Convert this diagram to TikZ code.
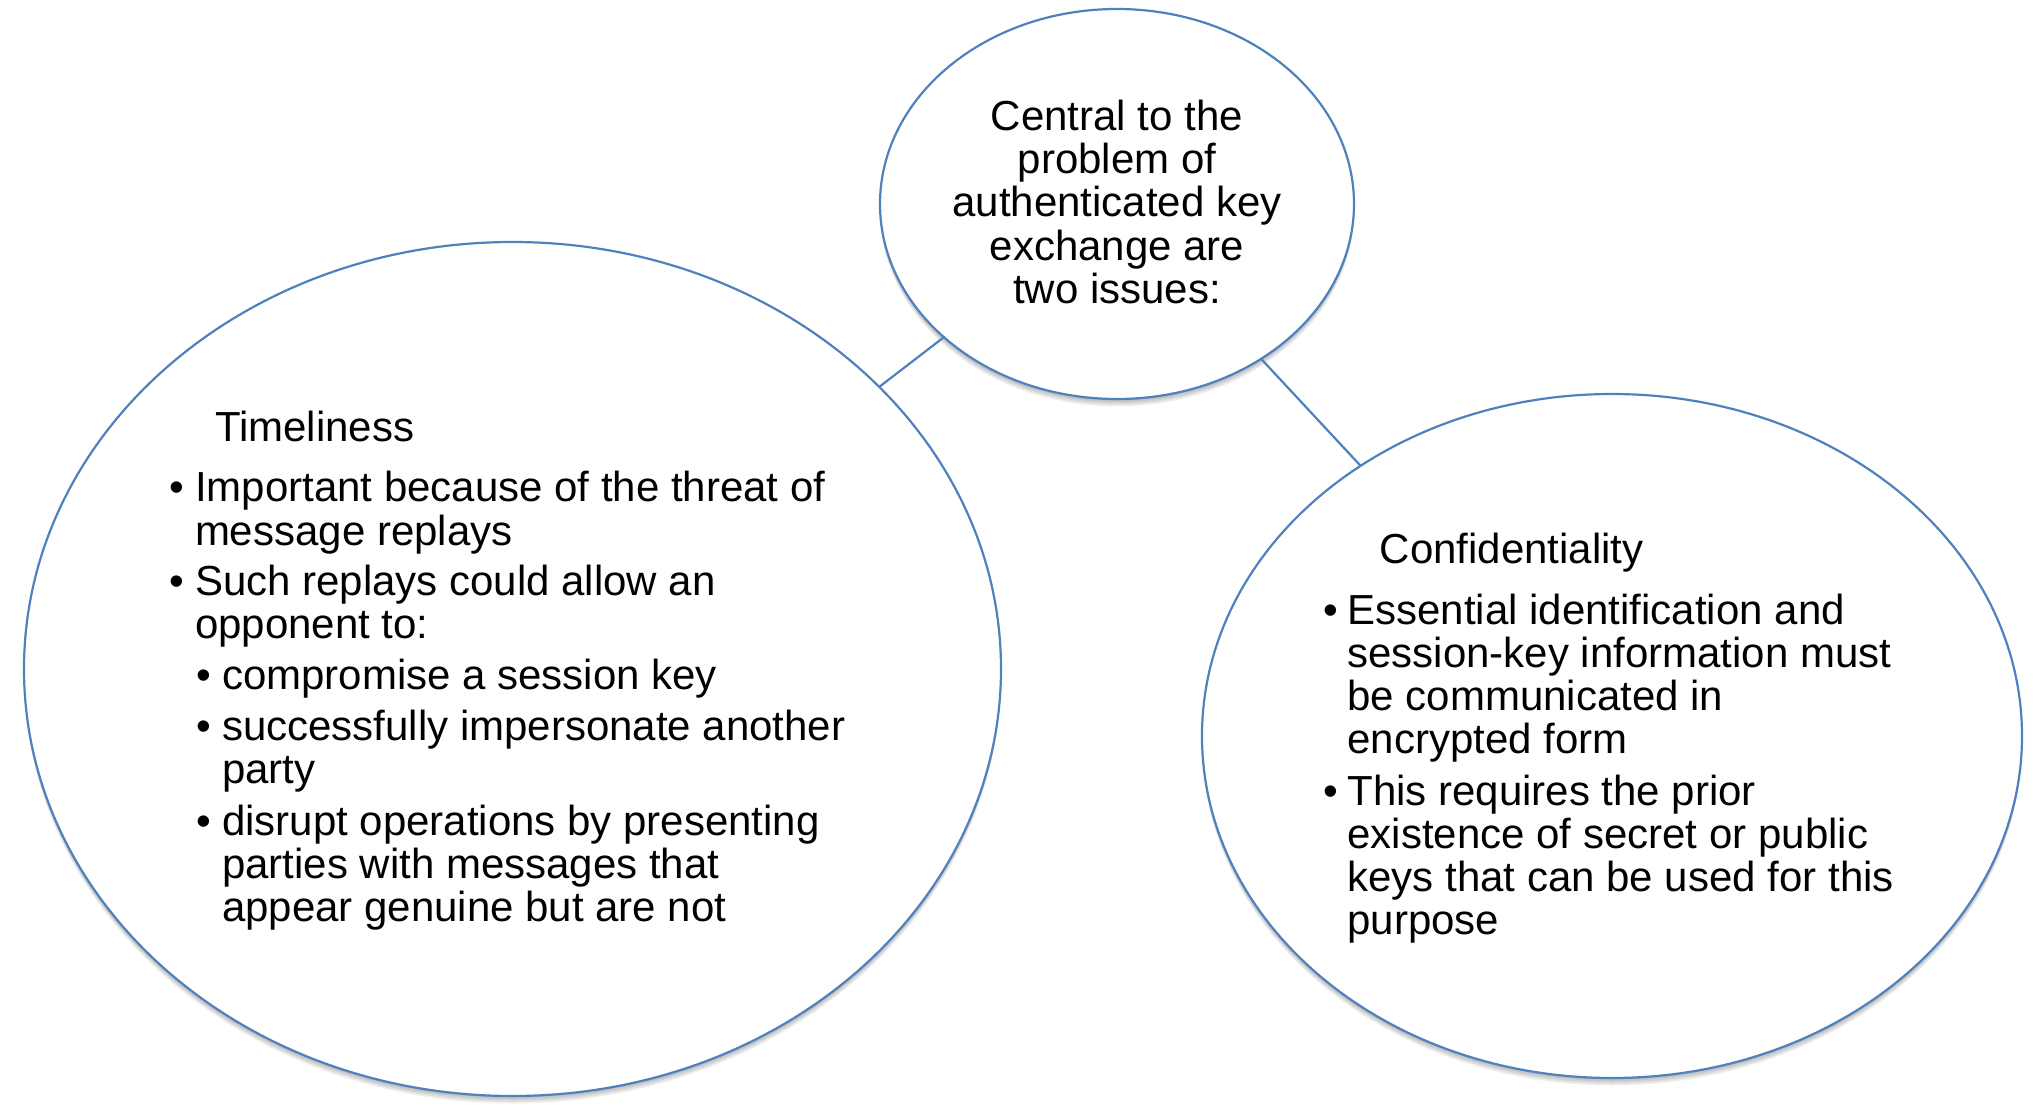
\documentclass[tikz,border=0pt]{standalone}
\usepackage{fontspec}
\setmainfont{Liberation Sans}
\usetikzlibrary{shapes.geometric}
\definecolor{accentblue}{HTML}{4F81BD}
\begin{document}
\begin{tikzpicture}[x=1pt,y=-1pt,
  bubble/.style={ellipse, draw=accentblue, line width=2.2pt, fill=white, inner sep=0pt, outer sep=0pt},
  link/.style={draw=accentblue, line width=2.2pt},
  txt/.style={anchor=base west, inner sep=0pt, outer sep=0pt, font=\fontsize{42}{43.3}\selectfont},
  ctxt/.style={anchor=base, inner sep=0pt, outer sep=0pt, font=\fontsize{42}{43.3}\selectfont},
  shadowlayer/.style={fill=black, opacity=0.06}]
\useasboundingbox (0,0) rectangle (2043,1116);
\fill[white] (0,0) rectangle (2043,1116);
% soft shadows
\foreach \d in {1,...,5} {
  \fill[shadowlayer] ({1117},{204+1.5*\d}) ellipse [x radius=237pt, y radius=195pt];
  \fill[shadowlayer] ({512.5},{669+1.5*\d}) ellipse [x radius=488.5pt, y radius=427pt];
  \fill[shadowlayer] ({1612},{736+1.5*\d}) ellipse [x radius=410pt, y radius=342pt];
}
% bubbles
\node[bubble, minimum width=474pt, minimum height=390pt] (top) at (1117,204) {};
\node[bubble, minimum width=977pt, minimum height=854pt] (left) at (512.5,669) {};
\node[bubble, minimum width=820pt, minimum height=684pt] (right) at (1612,736) {};
% connectors
\draw[link] (top) -- (left);
\draw[link] (top) -- (right);
% central text
\node[ctxt] (c1) at (1117,130) {Central to the};
\node[ctxt] (c2) at (1117,173.3) {problem of};
\node[ctxt] (c3) at (1117,216.7) {authenticated key};
\node[ctxt] (c4) at (1117,260) {exchange are};
\node[ctxt] (c5) at (1117,303.3) {two issues:};
% left text
\node[txt] (lh) at (215,441.7) {Timeliness};
\node[txt] (lb1) at (169.7,501.7) {•};
\node[txt] (l1a) at (195,501.7) {Important because of the threat of};
\node[txt] (l1b) at (195,545) {message replays};
\node[txt] (lb2) at (169.7,595) {•};
\node[txt] (l2a) at (195,595) {Such replays could allow an};
\node[txt] (l2b) at (195,638.3) {opponent to:};
\node[txt] (lb3) at (196,689) {•};
\node[txt] (l3a) at (222,689) {compromise a session key};
\node[txt] (lb4) at (196,740) {•};
\node[txt] (l4a) at (222,740) {successfully impersonate another};
\node[txt] (l4b) at (222,783.3) {party};
\node[txt] (lb5) at (196,835) {•};
\node[txt] (l5a) at (222,835) {disrupt operations by presenting};
\node[txt] (l5b) at (222,878.3) {parties with messages that};
\node[txt] (l5c) at (222,921.7) {appear genuine but are not};
% right text
\node[txt] (rh) at (1379.7,563.3) {Confidentiality};
\node[txt] (rb1) at (1323,624) {•};
\node[txt] (r1a) at (1347.5,624) {Essential identification and};
\node[txt] (r1b) at (1347.5,667.3) {session-key information must};
\node[txt] (r1c) at (1347.5,710.6) {be communicated in};
\node[txt] (r1d) at (1347.5,753.9) {encrypted form};
\node[txt] (rb2) at (1323,805) {•};
\node[txt] (r2a) at (1347.5,805) {This requires the prior};
\node[txt] (r2b) at (1347.5,848.3) {existence of secret or public};
\node[txt] (r2c) at (1347.5,891.6) {keys that can be used for this};
\node[txt] (r2d) at (1347.5,934.9) {purpose};
\end{tikzpicture}
\end{document}
